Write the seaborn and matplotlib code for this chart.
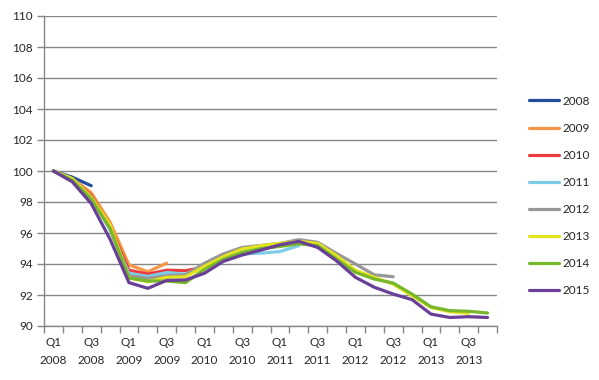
import matplotlib
matplotlib.use("Agg")
import matplotlib.pyplot as plt
from matplotlib.ticker import MultipleLocator, FixedLocator
import numpy as np
import pandas as pd
import seaborn as sns

# quarters on the x axis, Q1 2008 .. Q4 2013
years = [2008, 2009, 2010, 2011, 2012, 2013]
quarters = [f"Q{q} {y}" for y in years for q in range(1, 5)]

# one series per vintage, starting at Q1 2008 (index = 100)
v2008 = [100, 99.6, 99.05]
v2009 = [100, 99.5, 98.6, 96.7, 93.95, 93.5, 94.05]
v2010 = [100, 99.5, 98.4, 96.4, 93.6, 93.35, 93.6, 93.57, 93.8]
v2011 = [100, 99.5, 98.3, 96.2, 93.4, 93.2, 93.45, 93.35, 93.85, 94.2, 94.65,
         94.7, 94.8, 95.18]
v2012 = [100, 99.5, 98.3, 96.3, 93.25, 93.07, 93.25, 93.3, 94.05, 94.65, 95.07,
         95.2, 95.33, 95.57, 95.4, 94.68, 94.0, 93.3, 93.18]
v2013 = [100, 99.5, 98.3, 96.5, 93.1, 92.86, 93.14, 93.18, 93.85, 94.47, 94.97,
         95.18, 95.33, 95.46, 95.33, 94.53, 93.6, 93.14, 92.7, 91.95, 91.2,
         90.92, 90.82]
v2014 = [100, 99.4, 98.2, 96.3, 93.1, 92.9, 92.9, 92.8, 93.65, 94.3, 94.75,
         95.0, 95.13, 95.3, 95.18, 94.32, 93.46, 93.03, 92.77, 92.06, 91.24,
         90.99, 90.95, 90.84]
v2015 = [100, 99.3, 97.9, 95.6, 92.8, 92.43, 92.94, 92.97, 93.4, 94.17, 94.58,
         94.9, 95.24, 95.46, 95.07, 94.2, 93.14, 92.5, 92.06, 91.7, 90.77,
         90.55, 90.6, 90.55]

vintages = ["2008", "2009", "2010", "2011", "2012", "2013", "2014", "2015"]
series = [v2008, v2009, v2010, v2011, v2012, v2013, v2014, v2015]
colors = ["#214D9C", "#F79646", "#EC3B3F", "#7ECDE8", "#979797",
          "#E4E41C", "#77B82B", "#6A3F98"]

rows = []
for name, vals in zip(vintages, series):
    for i, v in enumerate(vals):
        rows.append({"pos": i, "value": v, "vintage": name})
df = pd.DataFrame(rows)

sns.set_style("white")
plt.rcParams["font.family"] = ["Lato", "DejaVu Sans"]

fig = plt.figure(figsize=(5.99, 3.80), dpi=100)
ax = fig.add_axes([44 / 599, 1 - 326 / 380, (497 - 44) / 599, (326 - 16) / 380])

sns.lineplot(data=df, x="pos", y="value", hue="vintage", hue_order=vintages,
             palette=colors, linewidth=2.3, ax=ax, sort=False)

ax.set_xlim(-0.5, len(quarters) - 0.5)
ax.set_ylim(90, 110)
ax.yaxis.set_major_locator(MultipleLocator(2))
ax.yaxis.grid(True, color="#878787", linewidth=1)
ax.set_axisbelow(True)

# labels every second quarter, tick marks at every category boundary
ax.xaxis.set_major_locator(FixedLocator(range(0, len(quarters), 2)))
ax.set_xticklabels([q.replace(" ", "\n") for q in quarters[::2]],
                   linespacing=1.8)
ax.xaxis.set_minor_locator(FixedLocator(np.arange(-0.5, len(quarters), 1)))
ax.tick_params(axis="x", which="major", length=0, pad=8, labelsize=8.5)
ax.tick_params(axis="x", which="minor", length=5, color="#878787", width=1,
               direction="out", bottom=True)
ax.tick_params(axis="y", length=5, color="#878787", width=1, direction="out",
               left=True, labelsize=8.5, pad=3)

for side in ["top", "right"]:
    ax.spines[side].set_visible(False)
for side in ["left", "bottom"]:
    ax.spines[side].set_color("#878787")
    ax.spines[side].set_linewidth(1)

ax.set_xlabel("")
ax.set_ylabel("")

handles, labels = ax.get_legend_handles_labels()
ax.legend(handles, labels, loc="upper left", bbox_to_anchor=(518 / 599, 1 - 85 / 380),
          bbox_transform=fig.transFigure, frameon=False, fontsize=8.5,
          handlelength=2.6, handletextpad=0.3, labelspacing=1.36)

fig.savefig("out.png", dpi=100)
